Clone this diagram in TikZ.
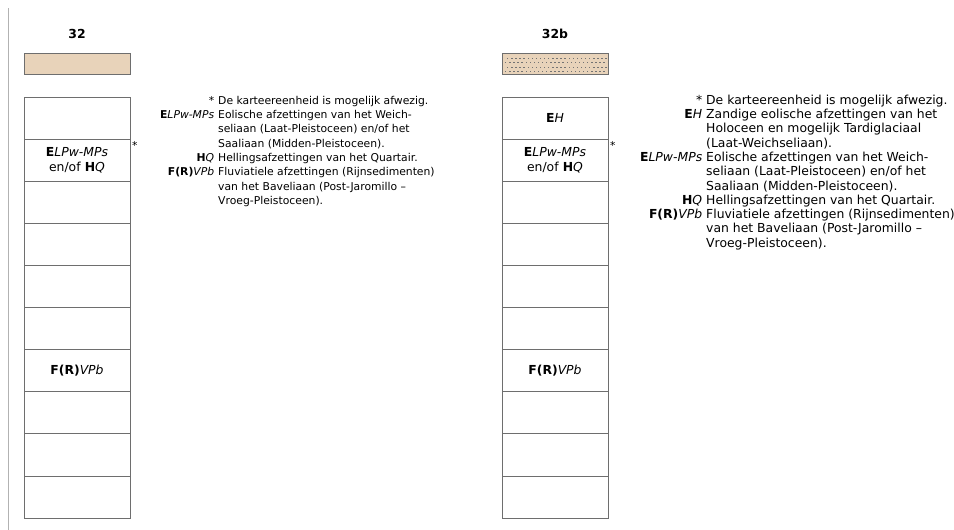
\documentclass[tikz,border=0pt]{standalone}
\usepackage{fontspec}
\setmainfont{DejaVu Sans}
\definecolor{zand}{RGB}{232,211,186}
\definecolor{rand}{RGB}{110,110,110}
\newcommand{\legfont}{\fontsize{10.8}{14.3}\selectfont}
\newcommand{\legfontb}{\fontsize{12.4}{14.3}\selectfont}
\newcommand{\kolfont}{\fontsize{12.4}{15}\selectfont}
\newcommand{\lab}[1]{\llap{#1\hspace{4pt}}}

\begin{document}
\begin{tikzpicture}[x=1pt,y=-1pt,
   laag/.style={draw=rand,line width=0.8pt,minimum width=106pt,minimum height=42.1pt,inner sep=0pt},
   kleur/.style={draw=rand,line width=0.8pt,fill=zand},
   titel/.style={font=\bfseries\kolfont},
   tekst/.style={font=\kolfont,align=center,inner sep=0pt}]
   \useasboundingbox (0,0) rectangle (954,530);
   \draw[black!30,line width=0.9pt] (8,8) -- (8,530);

   % kolom 32
   \node[titel] (t1) at (77,34) {32};
   \draw[kleur] (24,53) rectangle (130,74);
   \foreach \i in {1,...,10}
      \node[laag] (a\i) at (77,{97+42.1*(\i-0.5)}) {};
   \node[tekst] (a2t) at (a2) {\textbf{E}\textit{LPw-MPs}\\en/of \textbf{H}\textit{Q}};
   \node[tekst] (a7t) at (a7) {\textbf{F(R)}\textit{VPb}};
   \node[font=\legfont,anchor=west,inner sep=0pt] (s1) at (132,145) {*};

   \node[anchor=north west,inner sep=0pt] (leg1) at (218,94) {\legfont
      \begin{tabular}{@{}l@{}}
      \lab{*}De karteereenheid is mogelijk afwezig.\\
      \lab{\textbf{E}\textit{LPw-MPs}}Eolische afzettingen van het Weich-\\
      seliaan (Laat-Pleistoceen) en/of het\\
      Saaliaan (Midden-Pleistoceen).\\
      \lab{\textbf{H}\textit{Q}}Hellingsafzettingen van het Quartair.\\
      \lab{\textbf{F(R)}\textit{VPb}}Fluviatiele afzettingen (Rijnsedimenten)\\
      van het Baveliaan (Post-Jaromillo --\\
      Vroeg-Pleistoceen).
      \end{tabular}};

   % kolom 32b
   \node[titel] (t2) at (555,34) {32b};
   \draw[kleur] (502,53) rectangle (608,74);
   \foreach \r [count=\k] in {57.5,62,66.5,71}
      \foreach \c in {0,...,24}
         \fill[black!55] ({505+4.1*\c+2*mod(\k,2)},\r) rectangle +(1.4,0.9);
   \foreach \i in {1,...,10}
      \node[laag] (b\i) at (555,{97+42.1*(\i-0.5)}) {};
   \node[tekst] (b1t) at (b1) {\textbf{E}\textit{H}};
   \node[tekst] (b2t) at (b2) {\textbf{E}\textit{LPw-MPs}\\en/of \textbf{H}\textit{Q}};
   \node[tekst] (b7t) at (b7) {\textbf{F(R)}\textit{VPb}};
   \node[font=\legfont,anchor=west,inner sep=0pt] (s2) at (610,145) {*};

   \node[anchor=north west,inner sep=0pt] (leg2) at (706,94) {\legfontb
      \begin{tabular}{@{}l@{}}
      \lab{*}De karteereenheid is mogelijk afwezig.\\
      \lab{\textbf{E}\textit{H}}Zandige eolische afzettingen van het\\
      Holoceen en mogelijk Tardiglaciaal\\
      (Laat-Weichseliaan).\\
      \lab{\textbf{E}\textit{LPw-MPs}}Eolische afzettingen van het Weich-\\
      seliaan (Laat-Pleistoceen) en/of het\\
      Saaliaan (Midden-Pleistoceen).\\
      \lab{\textbf{H}\textit{Q}}Hellingsafzettingen van het Quartair.\\
      \lab{\textbf{F(R)}\textit{VPb}}Fluviatiele afzettingen (Rijnsedimenten)\\
      van het Baveliaan (Post-Jaromillo --\\
      Vroeg-Pleistoceen).
      \end{tabular}};
\end{tikzpicture}
\end{document}
